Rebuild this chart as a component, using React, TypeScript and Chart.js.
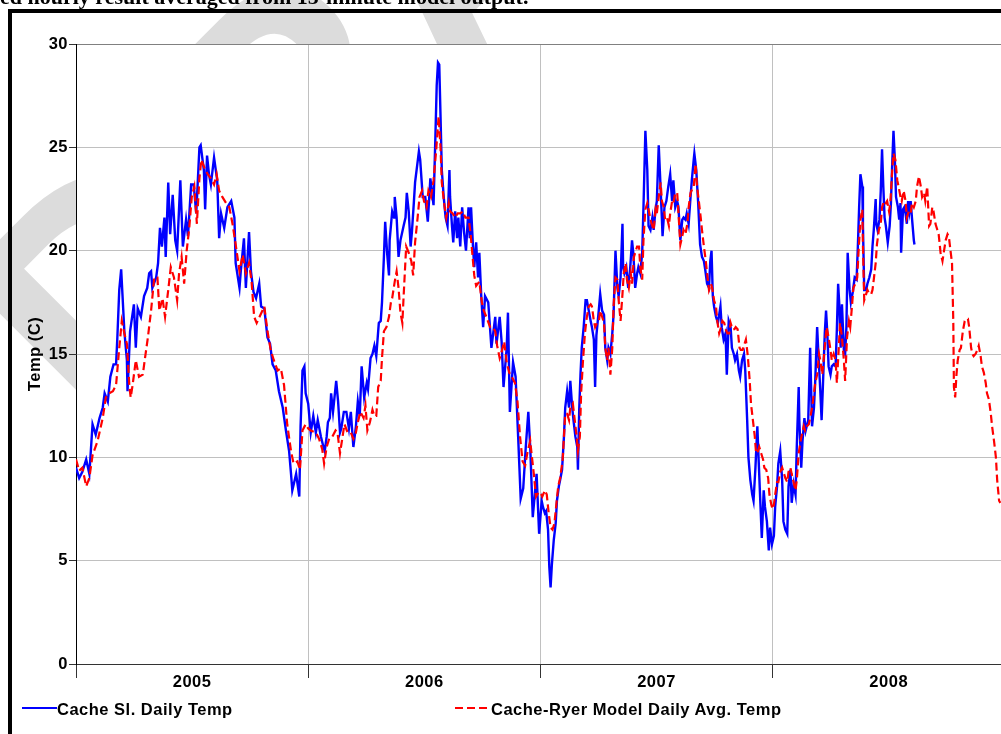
import React, { useEffect, useRef } from 'react';
import { Chart, registerables } from 'chart.js';

Chart.register(...registerables);

// ---- Data (x = days since 1 Jan 2005) ----
const yearLabels = ['2005', '2006', '2007', '2008'];
const yTicks = [0, 5, 10, 15, 20, 25, 30];
const X_MAX_DAYS = 1454;

const blueDays = [
  0, 5, 10, 16, 21, 26, 31, 37, 42, 45, 50, 54, 59, 63, 65, 68, 71, 73, 76, 80, 81, 85, 91, 94, 97, 102, 107, 112, 115, 118, 120, 126, 129, 132, 135, 139, 141, 145, 148, 152, 156, 159, 164, 168, 173, 176, 181, 185, 189, 194, 196, 201, 203, 206, 209, 212, 217, 222, 225, 228, 233, 238, 244, 249, 251, 257, 259, 264, 267, 272, 275, 279, 283, 288, 291, 296, 301, 305, 309, 314, 319, 325, 330, 335, 338, 340, 346, 351, 353, 356, 359, 361, 365,
  369, 373, 377, 380, 385, 389, 391, 394, 396, 399, 401, 404, 409, 412, 415, 417, 421, 425, 429, 432, 436, 440, 443, 446, 449, 453, 457, 459, 463, 466, 469, 472, 476, 479, 481, 484, 486, 489, 492, 493, 497, 500, 501, 504, 507, 510, 515, 518, 520, 523, 526, 528, 531, 533, 539, 541, 545, 549, 553, 557, 562, 565, 567, 569, 571, 573, 575, 578, 581, 584, 587, 588, 591, 593, 596, 599, 601, 604, 607, 610, 613, 617, 619, 621, 624, 626, 629, 632, 634, 637, 640, 643, 648, 653, 659, 661, 666, 669, 672, 677, 679, 682, 687, 691, 695, 699, 703, 707, 711, 714, 718, 724, 728,
  732, 734, 737, 739, 742, 744, 746, 748, 751, 754, 756, 759, 761, 764, 767, 769, 772, 775, 777, 780, 782, 785, 788, 789, 791, 793, 795, 798, 801, 803, 806, 809, 811, 814, 816, 818, 822, 824, 827, 830, 832, 835, 837, 840, 843, 845, 848, 851, 853, 856, 859, 860, 862, 865, 868, 871, 874, 876, 879, 882, 884, 887, 890, 892, 895, 898, 900, 903, 906, 908, 911, 913, 916, 918, 921, 922, 925, 928, 931, 934, 937, 939, 942, 945, 947, 950, 953, 955, 958, 960, 963, 966, 968, 971, 972, 975, 978, 981, 984, 987, 989, 992, 995, 997, 999, 1001, 1003, 1006, 1009, 1013, 1015, 1018, 1021, 1023, 1026, 1029, 1031, 1034, 1036, 1039, 1042, 1044, 1047, 1050, 1052, 1055, 1057, 1060, 1063, 1065, 1068, 1071, 1073, 1076, 1078, 1081, 1083, 1086, 1089, 1091, 1094,
  1097, 1099, 1102, 1104, 1107, 1110, 1112, 1115, 1118, 1120, 1123, 1125, 1128, 1131, 1133, 1136, 1137, 1140, 1142, 1145, 1147, 1151, 1153, 1154, 1157, 1160, 1162, 1165, 1167, 1170, 1172, 1174, 1177, 1179, 1181, 1183, 1186, 1188, 1191, 1194, 1196, 1198, 1200, 1202, 1204, 1207, 1209, 1211, 1213, 1216, 1218, 1221, 1224, 1227, 1229, 1231, 1233, 1236, 1237, 1239, 1242, 1244, 1247, 1250, 1252, 1254, 1257, 1258, 1260, 1263, 1265, 1267, 1269, 1271, 1273, 1276, 1279, 1281, 1283, 1285, 1287, 1289, 1292, 1294, 1296, 1297, 1300, 1302, 1304, 1306, 1308, 1310, 1312, 1314, 1317, 1318,
];
const blueTemps = [
  9.5, 9.0, 9.3, 9.9, 9.2, 11.6, 11.1, 11.9, 12.4, 13.1, 12.7, 13.9, 14.5, 14.5, 15.8, 18.1, 19.1, 17.9, 16.1, 14.7, 13.2, 16.1, 17.4, 15.3, 17.2, 16.8, 17.8, 18.2, 18.9, 19.0, 18.2, 18.7, 19.4, 21.1, 20.2, 21.6, 19.7, 23.3, 20.8, 22.7, 20.5, 20.0, 23.4, 20.2, 21.5, 20.7, 23.2, 23.2, 21.8, 25.0, 25.1, 23.9, 22.0, 24.6, 23.7, 23.2, 24.5, 23.4, 20.6, 21.8, 21.1, 22.1, 22.4, 21.6, 19.4, 18.2, 19.0, 20.6, 18.2, 20.9, 19.0, 18.0, 17.7, 18.4, 17.3, 17.2, 15.8, 15.5, 14.5, 14.2, 13.2, 12.4, 11.3, 10.3, 9.2, 8.4, 9.2, 8.1, 11.5, 14.2, 14.4, 13.1, 12.6,
  11.2, 12.0, 11.2, 11.8, 11.0, 10.5, 10.3, 11.0, 11.7, 11.9, 13.1, 12.2, 13.7, 12.7, 11.2, 11.4, 12.2, 12.2, 11.4, 12.2, 10.5, 11.5, 12.7, 12.0, 14.4, 12.9, 13.6, 13.3, 14.8, 15.0, 15.4, 14.9, 16.5, 16.6, 17.5, 19.7, 21.4, 19.9, 18.8, 20.5, 21.9, 21.6, 22.6, 21.6, 19.7, 20.5, 21.2, 21.6, 22.8, 21.9, 20.2, 20.9, 22.3, 23.3, 24.8, 24.4, 22.6, 22.6, 21.4, 23.5, 22.2, 25.6, 28.0, 29.1, 29.0, 26.5, 23.9, 22.6, 21.6, 21.2, 23.9, 22.6, 21.2, 20.4, 21.9, 20.6, 21.6, 20.2, 22.1, 20.9, 20.0, 22.1, 20.6, 22.1, 20.2, 19.2, 20.4, 18.7, 19.9, 17.8, 16.3, 17.8, 17.5, 15.3, 16.8, 15.5, 16.8, 15.6, 13.4, 15.3, 17.0, 12.2, 14.6, 13.9, 11.0, 8.0, 8.5, 10.5, 12.2, 10.5, 7.1, 9.2, 6.3,
  7.9, 7.6, 7.3, 7.4, 6.5, 4.7, 3.7, 4.8, 6.0, 6.8, 7.9, 8.6, 8.9, 9.4, 11.0, 12.4, 13.2, 12.4, 13.7, 12.4, 11.8, 11.0, 10.5, 9.4, 12.3, 14.0, 15.3, 16.3, 17.6, 17.6, 17.1, 16.6, 16.3, 15.7, 13.4, 15.9, 17.2, 17.9, 17.1, 16.9, 15.3, 14.7, 15.3, 15.0, 16.0, 16.9, 20.0, 18.2, 17.8, 18.7, 21.3, 19.2, 18.9, 19.2, 18.2, 19.1, 20.5, 19.9, 18.2, 18.9, 19.2, 18.9, 19.9, 22.1, 25.8, 23.9, 21.2, 21.0, 21.6, 21.0, 22.0, 22.4, 25.1, 23.7, 21.5, 20.7, 22.1, 22.4, 23.1, 23.7, 22.4, 23.4, 22.1, 22.4, 22.1, 20.5, 21.5, 21.6, 21.5, 21.8, 21.3, 22.6, 23.4, 24.4, 24.7, 23.9, 22.3, 20.3, 19.7, 19.5, 19.1, 18.4, 18.2, 19.5, 20.0, 17.8, 17.3, 16.8, 16.5, 17.3, 16.3, 15.7, 16.0, 14.0, 16.6, 16.3, 15.3, 15.0, 14.7, 15.0, 14.2, 13.9, 14.7, 15.0, 14.2, 11.8, 10.0, 8.9, 8.2, 7.9, 9.5, 11.5, 9.9, 7.6, 6.1, 8.4, 7.6, 6.9, 5.5, 6.6, 5.8,
  6.2, 7.6, 8.6, 9.7, 10.3, 8.9, 6.9, 6.5, 6.3, 8.6, 9.4, 7.8, 8.7, 8.2, 10.5, 13.4, 11.8, 9.5, 10.8, 11.9, 11.3, 11.8, 14.1, 15.3, 11.5, 12.4, 13.7, 16.3, 15.0, 13.2, 11.8, 13.4, 16.0, 17.1, 16.0, 14.4, 14.0, 14.4, 14.5, 14.4, 16.2, 18.4, 17.3, 15.3, 17.4, 15.2, 15.0, 16.3, 19.9, 18.1, 17.5, 18.0, 18.7, 18.6, 20.2, 22.1, 23.7, 23.1, 21.2, 18.1, 18.1, 18.4, 18.7, 19.1, 20.2, 21.0, 22.5, 21.3, 21.0, 21.5, 22.9, 24.9, 23.1, 21.6, 21.2, 20.4, 21.2, 22.3, 24.2, 25.8, 24.5, 22.6, 22.1, 21.5, 22.3, 19.9, 22.0, 22.1, 21.8, 21.3, 22.4, 21.9, 22.4, 21.6, 20.5, 20.3,
];

const redDays = [
  0, 5, 10, 16, 21, 26, 34, 42, 47, 52, 58, 63, 68, 72, 76, 80, 84, 86, 89, 94, 99, 105, 108, 113, 118, 123, 128, 131, 136, 140, 145, 149, 154, 159, 162, 166, 170, 174, 178, 182, 186, 190, 194, 197, 202, 207, 212, 217, 221, 225, 230, 236, 241, 246, 251, 257, 262, 267, 272, 276, 280, 284, 290, 296, 301, 306, 311, 317, 322, 327, 332, 338, 342, 348, 352, 356, 361,
  365, 369, 377, 382, 387, 390, 394, 398, 403, 408, 411, 415, 419, 422, 427, 432, 436, 440, 443, 447, 452, 455, 458, 462, 466, 469, 472, 475, 479, 481, 484, 488, 492, 495, 497, 501, 504, 507, 510, 513, 515, 519, 523, 527, 530, 533, 537, 540, 544, 547, 551, 554, 558, 562, 566, 570, 573, 575, 579, 582, 586, 588, 592, 596, 600, 604, 608, 612, 617, 620, 624, 626, 629, 634, 638, 641, 645, 651, 655, 659, 662, 666, 669, 673, 677, 681, 685, 690, 694, 698, 702, 706, 710, 714, 716, 720, 723, 727, 730,
  733, 737, 740, 743, 746, 749, 752, 755, 758, 761, 765, 769, 772, 775, 777, 781, 784, 787, 789, 792, 794, 797, 800, 803, 806, 809, 811, 814, 816, 819, 822, 824, 827, 830, 832, 835, 837, 840, 843, 845, 848, 851, 853, 856, 859, 861, 864, 866, 869, 872, 874, 877, 879, 882, 885, 887, 890, 892, 895, 898, 900, 903, 906, 908, 911, 913, 916, 919, 921, 924, 926, 929, 932, 934, 937, 939, 942, 945, 947, 950, 953, 955, 958, 961, 963, 966, 969, 971, 974, 976, 979, 982, 984, 987, 990, 992, 995, 998, 1000, 1003, 1006, 1008, 1011, 1014, 1016, 1019, 1021, 1024, 1027, 1029, 1032, 1035, 1037, 1040, 1043, 1045, 1048, 1051, 1053, 1056, 1059, 1061, 1064, 1067, 1069, 1072, 1074, 1077, 1080, 1082, 1085, 1088, 1090, 1093,
  1095, 1097, 1099, 1102, 1104, 1107, 1110, 1112, 1115, 1118, 1120, 1123, 1125, 1128, 1131, 1133, 1136, 1139, 1141, 1144, 1146, 1149, 1152, 1154, 1157, 1160, 1162, 1165, 1168, 1170, 1173, 1176, 1178, 1180, 1183, 1186, 1188, 1191, 1194, 1196, 1199, 1201, 1204, 1207, 1209, 1212, 1215, 1217, 1220, 1222, 1225, 1228, 1230, 1233, 1236, 1237, 1239, 1242, 1244, 1247, 1250, 1252, 1254, 1257, 1259, 1262, 1265, 1267, 1270, 1273, 1275, 1278, 1280, 1283, 1285, 1288, 1291, 1293, 1296, 1298, 1301, 1304, 1306, 1309, 1312, 1314, 1317, 1320, 1322, 1325, 1328, 1330, 1333, 1335, 1338, 1341, 1343, 1346, 1348, 1351, 1354, 1356, 1359, 1362, 1364, 1367, 1370, 1372, 1375, 1377, 1379, 1380, 1382, 1384, 1386, 1389, 1391, 1394, 1397, 1400, 1402, 1404, 1407, 1409, 1411, 1414, 1417, 1419, 1422, 1424, 1427, 1430, 1432, 1435, 1438, 1440, 1443, 1446, 1448, 1451, 1453,
];
const redTemps = [
  9.9, 9.35, 9.5, 8.6, 9.0, 10.1, 10.8, 11.9, 12.9, 13.1, 13.2, 13.5, 15.3, 16.6, 16.0, 15.5, 13.4, 12.9, 13.5, 14.7, 13.9, 14.0, 14.7, 15.8, 17.1, 18.7, 18.7, 17.1, 17.7, 16.8, 18.1, 19.2, 18.7, 17.6, 18.9, 19.7, 18.4, 20.0, 21.1, 22.6, 23.1, 21.3, 23.5, 24.4, 24.0, 23.7, 23.5, 23.2, 23.7, 22.9, 22.6, 22.3, 22.1, 21.3, 20.3, 19.0, 19.8, 18.9, 19.4, 18.5, 16.8, 16.5, 16.9, 17.3, 16.1, 15.2, 14.7, 14.2, 14.3, 13.5, 11.6, 10.3, 9.7, 9.8, 9.4, 11.3, 11.6,
  11.4, 11.3, 11.2, 10.9, 10.4, 9.7, 10.5, 10.9, 11.0, 11.3, 11.2, 10.2, 11.0, 11.6, 11.2, 11.2, 10.9, 11.2, 11.7, 12.2, 11.9, 12.5, 11.3, 11.7, 12.3, 12.0, 12.0, 13.4, 13.7, 14.8, 16.1, 16.3, 16.8, 17.5, 17.7, 18.5, 19.0, 18.2, 17.0, 16.5, 17.8, 20.2, 19.9, 19.5, 18.8, 20.4, 21.6, 22.6, 22.9, 22.4, 22.1, 22.9, 22.6, 23.4, 24.8, 26.5, 25.0, 23.3, 22.2, 21.6, 22.3, 21.9, 21.8, 21.6, 21.8, 21.8, 21.9, 21.6, 21.6, 20.9, 19.5, 18.8, 18.3, 18.5, 17.5, 17.1, 16.8, 16.3, 16.3, 16.1, 15.4, 14.8, 15.1, 15.6, 14.6, 14.1, 13.9, 13.6, 12.7, 11.0, 9.8, 9.6, 10.3, 10.8, 10.2, 9.1, 8.1, 8.3, 8.3,
  8.1, 8.4, 8.2, 7.3, 6.6, 6.5, 6.8, 7.7, 8.6, 9.0, 9.9, 12.1, 12.1, 11.8, 12.4, 12.6, 11.8, 11.0, 10.3, 11.0, 13.1, 14.7, 16.0, 16.8, 17.3, 17.4, 17.3, 16.6, 16.3, 16.5, 16.6, 17.1, 16.8, 16.5, 15.3, 14.7, 15.3, 14.0, 15.3, 17.3, 18.7, 18.6, 17.6, 16.6, 17.9, 18.9, 19.4, 18.6, 18.2, 18.9, 18.4, 19.7, 19.9, 20.2, 20.2, 19.2, 18.6, 20.5, 22.0, 22.3, 22.0, 21.5, 21.2, 21.0, 22.0, 21.8, 22.6, 23.3, 22.4, 22.1, 21.5, 21.6, 21.2, 21.8, 22.4, 22.3, 22.8, 22.8, 21.8, 20.3, 20.7, 21.0, 20.8, 21.3, 22.1, 22.8, 23.0, 23.1, 24.2, 23.2, 22.4, 21.6, 21.0, 20.2, 19.5, 18.9, 18.1, 18.4, 18.2, 17.6, 17.3, 16.6, 16.0, 16.3, 16.6, 16.5, 16.2, 16.0, 16.0, 16.5, 16.2, 16.2, 16.3, 16.2, 15.3, 15.2, 15.2, 15.5, 15.7, 14.9, 13.7, 12.6, 11.8, 11.0, 10.2, 10.3, 10.5, 10.2, 9.9, 9.5, 9.4, 9.0, 8.2, 7.7,
  7.5, 7.7, 8.2, 8.8, 8.8, 9.3, 9.5, 9.3, 9.0, 8.8, 9.3, 9.5, 9.2, 8.8, 8.4, 8.9, 10.2, 10.8, 11.1, 11.5, 11.3, 11.5, 11.6, 11.9, 12.4, 13.1, 13.6, 14.0, 15.0, 14.7, 14.0, 15.0, 15.7, 16.3, 15.8, 15.2, 14.7, 15.0, 14.7, 13.6, 15.3, 16.5, 15.8, 14.7, 13.7, 15.8, 16.6, 16.3, 17.4, 18.2, 18.4, 18.7, 19.9, 21.5, 22.0, 20.2, 17.6, 17.9, 18.1, 17.9, 17.9, 18.1, 18.6, 19.4, 20.3, 21.0, 21.3, 22.1, 22.4, 22.3, 22.4, 21.9, 22.3, 23.9, 24.7, 24.4, 23.4, 23.1, 22.6, 22.4, 22.9, 22.4, 21.6, 21.9, 21.8, 22.3, 22.1, 22.4, 23.1, 23.6, 23.1, 22.6, 22.8, 22.4, 23.1, 21.2, 21.3, 22.1, 21.9, 21.3, 21.0, 20.8, 19.9, 19.5, 19.9, 20.5, 20.8, 20.7, 19.9, 19.4, 16.6, 13.4, 12.9, 14.0, 14.7, 15.2, 15.3, 16.1, 16.6, 16.7, 16.7, 16.3, 15.3, 15.0, 14.9, 15.0, 15.2, 15.4, 14.9, 14.4, 14.1, 13.6, 13.1, 12.8, 12.1, 11.5, 10.8, 10.0, 8.9, 7.9, 7.8,
];

const blueLabel = 'Cache Sl. Daily Temp';
const redLabel = 'Cache-Ryer Model Daily Avg. Temp';
const yTitle = 'Temp (C)';
const headerText = 'ed hourly result averaged from 15-minute model output.';
const watermarkText = 'DRAFT';

const SANS = '"Liberation Sans", Arial, sans-serif';
const SERIF = '"Liberation Serif", "Times New Roman", serif';
const LABEL_SIZE = 16.5;

export default function App() {
  const canvasRef = useRef<HTMLCanvasElement | null>(null);

  useEffect(() => {
    const canvas = canvasRef.current;
    if (!canvas) return;

    const backdrop = {
      id: 'backdrop',
      beforeDraw(chart: any) {
        const { ctx, chartArea } = chart;
        ctx.save();
        ctx.fillStyle = '#dcdcdc';
        ctx.translate(112, 458);
        ctx.rotate(-Math.PI / 4);
        ctx.font = `bold 340px ${SANS}`;
        ctx.textBaseline = 'alphabetic';
        ctx.fillText(watermarkText, 0, 0);
        ctx.restore();
        ctx.save();
        ctx.fillStyle = '#ffffff';
        ctx.fillRect(chartArea.left, chartArea.top, chartArea.right - chartArea.left, chartArea.bottom - chartArea.top);
        ctx.restore();
        try {
          (ctx as any).letterSpacing = '0.5px';
        } catch (e) {
          /* ignore */
        }
      },
    };

    const tickFont = { family: SANS, size: LABEL_SIZE, weight: 'bold' as const };

    const chart = new Chart(canvas, {
      type: 'line',
      data: {
        datasets: [
          {
            label: redLabel,
            data: redDays.map((d, i) => ({ x: d, y: redTemps[i] })),
            borderColor: '#ff0000',
            borderWidth: 2.2,
            borderDash: [8, 4],
            pointRadius: 0,
            tension: 0,
            fill: false,
            order: 0,
          },
          {
            label: blueLabel,
            data: blueDays.map((d, i) => ({ x: d, y: blueTemps[i] })),
            borderColor: '#0000ff',
            borderWidth: 2.4,
            pointRadius: 0,
            tension: 0,
            fill: false,
            order: 1,
          },
        ],
      },
      options: {
        animation: false,
        responsive: false,
        maintainAspectRatio: false,
        events: [],
        layout: { padding: { top: 44, left: 0, right: 0, bottom: 0 } },
        plugins: { legend: { display: false }, tooltip: { enabled: false }, title: { display: false } },
        scales: {
          x: {
            type: 'linear',
            min: 0,
            max: X_MAX_DAYS,
            afterBuildTicks: (scale: any) => {
              scale.ticks = yearLabels.flatMap((_, i) => [{ value: i * 365 }, { value: i * 365 + 182.5 }]);
            },
            afterFit: (scale: any) => {
              scale.height = 70;
            },
            grid: {
              color: (c: any) => (c.tick && c.tick.value % 365 === 0 ? '#c0c0c0' : 'rgba(0,0,0,0)'),
              tickColor: (c: any) => (c.tick && c.tick.value % 365 === 0 ? '#333333' : 'rgba(0,0,0,0)'),
              tickLength: 14,
              lineWidth: 1,
            },
            border: { color: '#333333', width: 1 },
            ticks: {
              autoSkip: false,
              maxRotation: 0,
              minRotation: 0,
              padding: -5,
              color: '#000',
              font: tickFont,
              callback: (v: any) => {
                const n = Number(v);
                if (n % 365 === 0) return '';
                return yearLabels[Math.floor(n / 365)] ?? '';
              },
            },
          },
          y: {
            min: 0,
            max: 30,
            afterBuildTicks: (scale: any) => {
              scale.ticks = yTicks.map((v) => ({ value: v }));
            },
            afterFit: (scale: any) => {
              scale.width = 76;
            },
            grid: {
              color: (c: any) => (c.tick && c.tick.value === 30 ? '#808080' : '#c0c0c0'),
              tickColor: '#333333',
              tickLength: 7,
              lineWidth: 1,
            },
            border: { color: '#000000', width: 1 },
            ticks: { padding: 1, color: '#000', font: tickFont },
            title: {
              display: true,
              text: yTitle,
              color: '#000',
              font: { family: SANS, size: LABEL_SIZE, weight: 'bold' },
              padding: { top: 26, bottom: 0 },
            },
          },
        },
      },
      plugins: [backdrop],
    });

    return () => chart.destroy();
  }, []);

  const legendText: React.CSSProperties = {
    position: 'absolute',
    top: 701,
    fontFamily: SANS,
    fontWeight: 'bold',
    fontSize: LABEL_SIZE,
    letterSpacing: '0.5px',
    lineHeight: '16px',
    whiteSpace: 'nowrap',
    color: '#000',
  };

  return (
    <div style={{ position: 'fixed', left: 0, top: 0, width: 1001, height: 734, overflow: 'hidden', background: '#fff' }}>
      <canvas ref={canvasRef} width={1001} height={734} style={{ position: 'absolute', left: 0, top: 0, width: 1001, height: 734, display: 'block' }} />
      <div
        style={{
          position: 'absolute',
          left: 8,
          top: 9,
          width: 2000,
          height: 2000,
          borderLeft: '4px solid #000',
          borderTop: '4px solid #000',
          boxSizing: 'border-box',
          pointerEvents: 'none',
        }}
      />
      <div
        style={{
          position: 'absolute',
          left: 0,
          top: -14,
          fontFamily: SERIF,
          fontWeight: 'bold',
          fontSize: 22,
          lineHeight: '22px',
          whiteSpace: 'nowrap',
          color: '#000',
        }}
      >
        {headerText}
      </div>
      <div style={{ position: 'absolute', left: 22, top: 707, width: 35, height: 2, background: '#0000ff' }} />
      <div style={{ ...legendText, left: 57 }}>{blueLabel}</div>
      <div
        style={{
          position: 'absolute',
          left: 455,
          top: 707,
          width: 35,
          height: 2,
          background: 'repeating-linear-gradient(to right, #ff0000 0px, #ff0000 8px, rgba(0,0,0,0) 8px, rgba(0,0,0,0) 12px)',
        }}
      />
      <div style={{ ...legendText, left: 491 }}>{redLabel}</div>
    </div>
  );
}
